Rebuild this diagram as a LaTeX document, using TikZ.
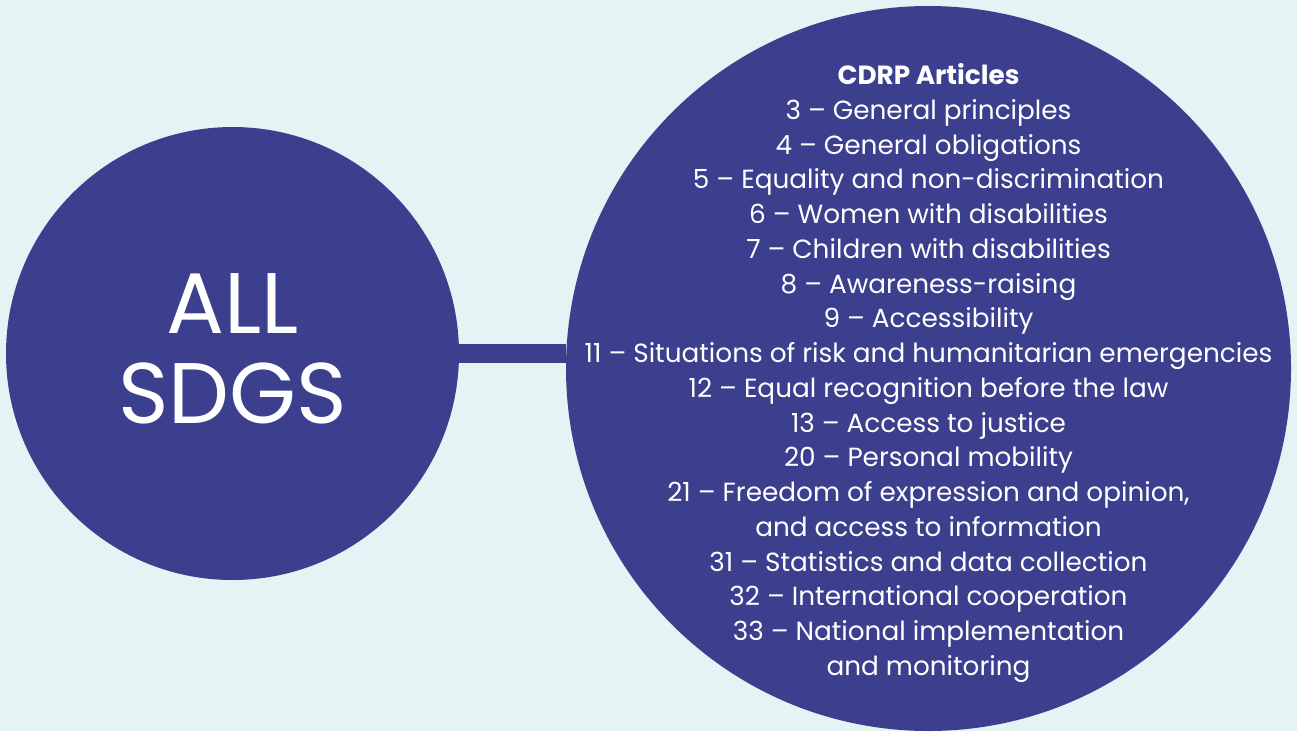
\documentclass[tikz,border=0pt]{standalone}
\usepackage{fontspec}
\setmainfont{Poppins}
\usepackage{tikz}

\definecolor{sdgblue}{RGB}{59,63,142}
\definecolor{paleblue}{RGB}{228,243,244}

\begin{document}
\begin{tikzpicture}[x=1pt, y=-1pt]
	\fill[paleblue] (0,0) rectangle (1297,731);
	\useasboundingbox (0,0) rectangle (1297,731);
	%% the two discs and the bar between them
	\node[circle, fill=sdgblue, inner sep=0pt, minimum size=453pt] (sdgs) at (232.5,353.5) {};
	\node[circle, fill=sdgblue, inner sep=0pt, minimum size=725pt] (articles) at (928.5,368.5) {};
	\draw[sdgblue, line width=19pt] (sdgs.east) -- (sdgs.east -| articles.west);
	\node[text=white, align=center, yshift=5pt, font=\fontsize{86}{90}\selectfont] (sdgslabel) at (sdgs.center) {ALL\\SDGS};
	\node[text=white, align=center, yshift=-4.5pt, font=\fontsize{26.3}{34.75}\selectfont] (articlelist) at (articles.center) {%
		\textbf{CDRP Articles}\\
		3 – General principles\\
		4 – General obligations\\
		5 – Equality and non-discrimination\\
		6 – Women with disabilities\\
		7 – Children with disabilities\\
		8 – Awareness-raising\\
		9 – Accessibility\\
		11 – Situations of risk and humanitarian emergencies\\
		12 – Equal recognition before the law\\
		13 – Access to justice\\
		20 – Personal mobility\\
		21 – Freedom of expression and opinion,\\
		and access to information\\
		31 – Statistics and data collection\\
		32 – International cooperation\\
		33 – National implementation\\
		and monitoring};
\end{tikzpicture}
\end{document}
